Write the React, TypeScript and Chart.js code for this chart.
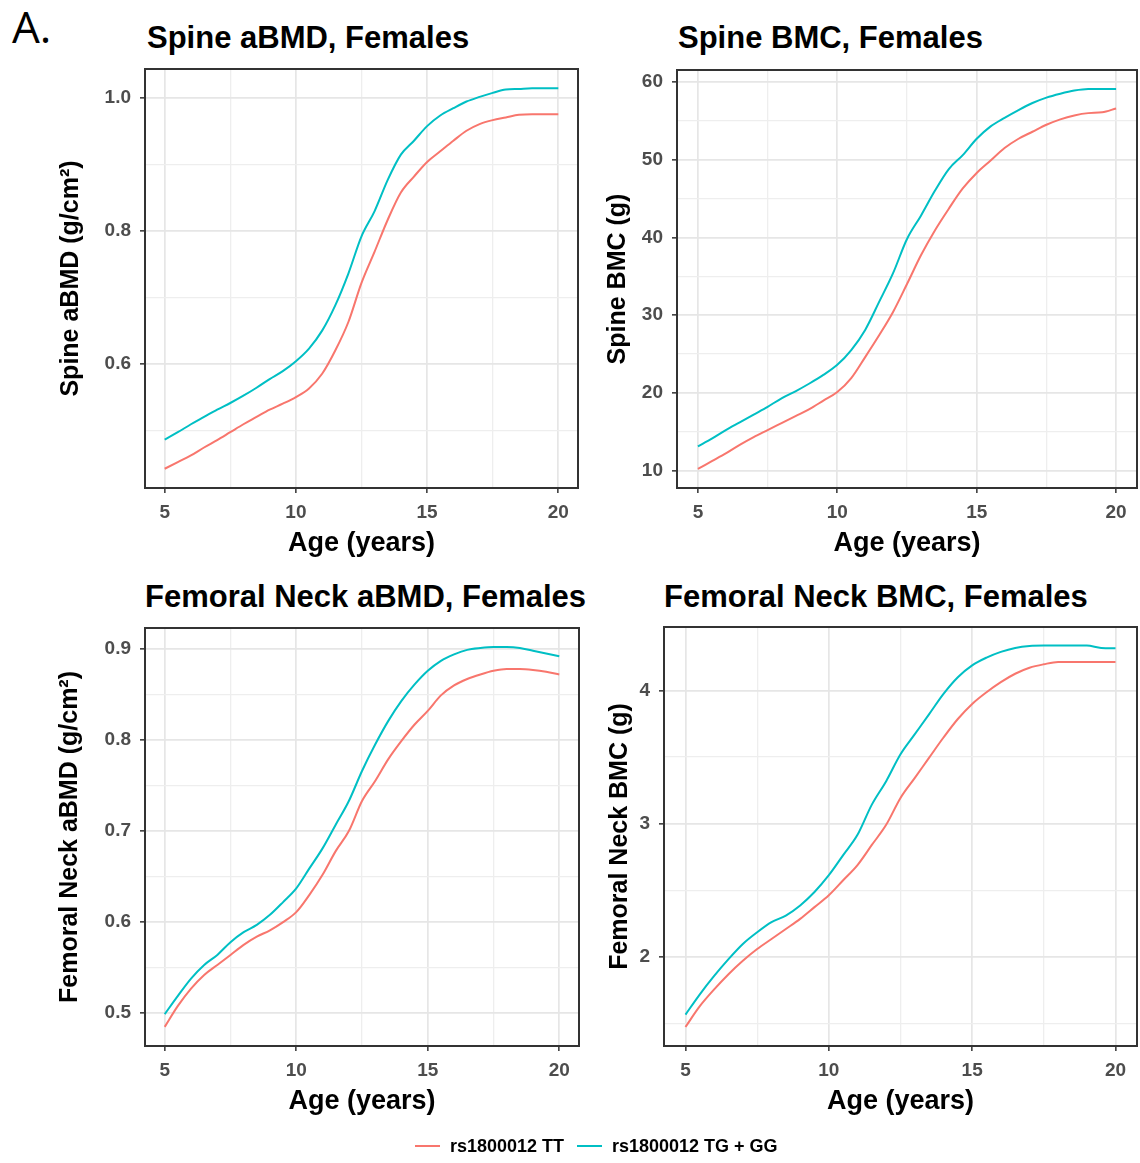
import React, { useEffect, useRef } from 'react';
import { Chart, registerables } from 'chart.js';

Chart.register(...registerables);

// ---------------- data ----------------
const AGES = [5, 5.5, 6, 6.5, 7, 7.5, 8, 8.5, 9, 9.5, 10, 10.5, 11, 11.5, 12, 12.5, 13, 13.5, 14, 14.5, 15, 15.5, 16, 16.5, 17, 17.5, 18, 18.5, 19, 19.5, 20];

const SPINE_ABMD_TT = [0.442, 0.452, 0.462, 0.474, 0.485, 0.497, 0.509, 0.52, 0.531, 0.54, 0.55, 0.563, 0.585, 0.62, 0.663, 0.722, 0.769, 0.817, 0.858, 0.882, 0.904, 0.92, 0.936, 0.951, 0.961, 0.967, 0.971, 0.975, 0.976, 0.976, 0.976];
const SPINE_ABMD_TG = [0.486, 0.497, 0.509, 0.52, 0.531, 0.541, 0.552, 0.564, 0.577, 0.589, 0.604, 0.623, 0.65, 0.688, 0.736, 0.792, 0.83, 0.877, 0.915, 0.936, 0.958, 0.974, 0.985, 0.995, 1.002, 1.008, 1.013, 1.014, 1.015, 1.015, 1.015];

const SPINE_BMC_TT = [10.2, 11.2, 12.2, 13.3, 14.3, 15.2, 16.1, 17.0, 17.9, 19.0, 20.1, 21.9, 24.6, 27.4, 30.4, 34.0, 37.7, 40.9, 43.7, 46.3, 48.3, 49.9, 51.5, 52.7, 53.6, 54.5, 55.2, 55.7, 56.0, 56.1, 56.6];
const SPINE_BMC_TG = [13.1, 14.1, 15.2, 16.2, 17.2, 18.2, 19.3, 20.2, 21.2, 22.3, 23.6, 25.5, 28.1, 31.7, 35.4, 39.8, 42.8, 46.0, 48.8, 50.6, 52.7, 54.3, 55.4, 56.4, 57.3, 58.0, 58.5, 58.9, 59.1, 59.1, 59.1];

const FN_ABMD_TT = [0.485, 0.508, 0.527, 0.542, 0.553, 0.564, 0.575, 0.584, 0.591, 0.6, 0.611, 0.63, 0.652, 0.678, 0.7, 0.733, 0.755, 0.779, 0.799, 0.817, 0.832, 0.849, 0.86, 0.867, 0.872, 0.876, 0.878, 0.878, 0.877, 0.875, 0.872];
const FN_ABMD_TG = [0.499, 0.519, 0.538, 0.553, 0.564, 0.578, 0.589, 0.597, 0.608, 0.622, 0.637, 0.659, 0.681, 0.707, 0.733, 0.766, 0.795, 0.821, 0.843, 0.861, 0.876, 0.887, 0.894, 0.899, 0.901, 0.902, 0.902, 0.901, 0.898, 0.895, 0.892];

const FN_BMC_TT = [1.473, 1.629, 1.755, 1.869, 1.97, 2.058, 2.134, 2.209, 2.285, 2.373, 2.462, 2.575, 2.689, 2.84, 2.991, 3.193, 3.344, 3.496, 3.647, 3.786, 3.899, 3.987, 4.063, 4.126, 4.171, 4.197, 4.214, 4.214, 4.214, 4.214, 4.214];
const FN_BMC_TG = [1.566, 1.718, 1.856, 1.982, 2.096, 2.184, 2.26, 2.31, 2.386, 2.487, 2.613, 2.764, 2.916, 3.143, 3.319, 3.521, 3.672, 3.823, 3.975, 4.1, 4.189, 4.247, 4.29, 4.32, 4.335, 4.338, 4.338, 4.338, 4.338, 4.32, 4.318];

const SERIES_LABELS = ['rs1800012 TT', 'rs1800012 TG + GG'];
const SERIES_COLORS = ['#F8766D', '#00BFC4'];

const X_MAJOR = [5, 10, 15, 20];
const X_MINOR = [7.5, 12.5, 17.5];

const P1_Y_MAJOR = [0.6, 0.8, 1.0];
const P1_Y_MINOR = [0.5, 0.7, 0.9];
const P2_Y_MAJOR = [10, 20, 30, 40, 50, 60];
const P2_Y_MINOR = [15, 25, 35, 45, 55];
const P3_Y_MAJOR = [0.5, 0.6, 0.7, 0.8, 0.9];
const P3_Y_MINOR = [0.55, 0.65, 0.75, 0.85];
const P4_Y_MAJOR = [2, 3, 4];
const P4_Y_MINOR = [1.5, 2.5, 3.5];

const TITLES = ['Spine aBMD, Females', 'Spine BMC, Females', 'Femoral Neck aBMD, Females', 'Femoral Neck BMC, Females'];
const Y_TITLES = ['Spine aBMD (g/cm²)', 'Spine BMC (g)', 'Femoral Neck aBMD (g/cm²)', 'Femoral Neck BMC (g)'];
const X_TITLE = 'Age (years)';

// ---------------- styling / layout ----------------
const FONT = "'Liberation Sans', Arial, Helvetica, sans-serif";

type PanelSpec = {
  left: number; top: number; w: number; h: number;
  padTop: number; padRight: number; yAxisWidth: number; xAxisHeight: number;
  yTitlePad: number;
  yMin: number; yMax: number; yMajor: number[]; yMinor: number[]; decimals: number;
  tt: number[]; tg: number[]; title: string; yTitle: string;
  titleLeft: number; titleTop: number;
};

const PANELS: PanelSpec[] = [
  { left: 0, top: 60, w: 590, h: 520, padTop: 9, padRight: 12, yAxisWidth: 145, xAxisHeight: 92, yTitlePad: 56,
    yMin: 0.413, yMax: 1.044, yMajor: P1_Y_MAJOR, yMinor: P1_Y_MINOR, decimals: 1,
    tt: SPINE_ABMD_TT, tg: SPINE_ABMD_TG, title: TITLES[0], yTitle: Y_TITLES[0], titleLeft: 147, titleTop: 22 },
  { left: 590, top: 60, w: 550, h: 520, padTop: 10, padRight: 3, yAxisWidth: 87, xAxisHeight: 92, yTitlePad: 13,
    yMin: 7.75, yMax: 61.55, yMajor: P2_Y_MAJOR, yMinor: P2_Y_MINOR, decimals: 0,
    tt: SPINE_BMC_TT, tg: SPINE_BMC_TG, title: TITLES[1], yTitle: Y_TITLES[1], titleLeft: 678, titleTop: 22 },
  { left: 0, top: 618, w: 590, h: 520, padTop: 10, padRight: 11, yAxisWidth: 145, xAxisHeight: 92, yTitlePad: 55,
    yMin: 0.464, yMax: 0.923, yMajor: P3_Y_MAJOR, yMinor: P3_Y_MINOR, decimals: 1,
    tt: FN_ABMD_TT, tg: FN_ABMD_TG, title: TITLES[2], yTitle: Y_TITLES[2], titleLeft: 145, titleTop: 581 },
  { left: 590, top: 618, w: 550, h: 520, padTop: 9, padRight: 3, yAxisWidth: 74, xAxisHeight: 92, yTitlePad: 15,
    yMin: 1.33, yMax: 4.477, yMajor: P4_Y_MAJOR, yMinor: P4_Y_MINOR, decimals: 0,
    tt: FN_BMC_TT, tg: FN_BMC_TG, title: TITLES[3], yTitle: Y_TITLES[3], titleLeft: 664, titleTop: 581 },
];

const isIn = (arr: number[], v: any) => typeof v === 'number' && arr.some((m) => Math.abs(m - v) < 1e-9);

const boxPlugin = {
  id: 'panelBox',
  afterDraw(chart: any) {
    const { ctx, chartArea } = chart;
    ctx.save();
    ctx.strokeStyle = '#333333';
    ctx.lineWidth = 2;
    ctx.strokeRect(chartArea.left, chartArea.top, chartArea.right - chartArea.left, chartArea.bottom - chartArea.top);
    ctx.restore();
  },
};

function Panel({ spec }: { spec: PanelSpec }) {
  const ref = useRef<HTMLCanvasElement>(null);
  useEffect(() => {
    if (!ref.current) return;
    const xTicks = [...X_MAJOR, ...X_MINOR].sort((a, b) => a - b);
    const yTicks = [...spec.yMajor, ...spec.yMinor].sort((a, b) => a - b);
    const mk = (vals: number[]) => AGES.map((a, i) => ({ x: a, y: vals[i] }));
    const chart = new Chart(ref.current, {
      type: 'line',
      data: {
        datasets: [
          { label: SERIES_LABELS[0], data: mk(spec.tt), borderColor: SERIES_COLORS[0], backgroundColor: SERIES_COLORS[0], borderWidth: 2, pointRadius: 0, cubicInterpolationMode: 'monotone', fill: false },
          { label: SERIES_LABELS[1], data: mk(spec.tg), borderColor: SERIES_COLORS[1], backgroundColor: SERIES_COLORS[1], borderWidth: 2, pointRadius: 0, cubicInterpolationMode: 'monotone', fill: false },
        ],
      },
      options: {
        animation: false,
        responsive: false,
        maintainAspectRatio: false,
        events: [],
        layout: { padding: { top: spec.padTop, right: spec.padRight, left: 0, bottom: 0 } },
        plugins: { legend: { display: false }, tooltip: { enabled: false }, title: { display: false } },
        scales: {
          x: {
            type: 'linear',
            min: 4.25,
            max: 20.75,
            afterBuildTicks: (s: any) => { s.ticks = xTicks.map((v) => ({ value: v })); },
            afterFit: (s: any) => { s.height = spec.xAxisHeight; s.paddingLeft = 0; s.paddingRight = 0; },
            ticks: {
              autoSkip: false, maxRotation: 0, minRotation: 0, padding: 8, color: '#4d4d4d',
              font: { family: FONT, size: 19, weight: 'bold' },
              callback: (v: any) => (isIn(X_MAJOR, v) ? String(v) : ''),
            },
            grid: {
              color: (c: any) => (isIn(X_MAJOR, c.tick?.value) ? '#e6e6e6' : '#eeeeee'),
              lineWidth: (c: any) => (isIn(X_MAJOR, c.tick?.value) ? 1.7 : 1.3),
              tickColor: (c: any) => (isIn(X_MAJOR, c.tick?.value) ? '#333333' : 'rgba(0,0,0,0)'),
              tickLength: 5,
              tickWidth: 1.5,
              drawTicks: true,
            },
            border: { display: false },
            title: { display: true, text: X_TITLE, color: '#000', font: { family: FONT, size: 27, weight: 'bold' }, padding: { top: 0, bottom: 20 } },
          },
          y: {
            type: 'linear',
            min: spec.yMin,
            max: spec.yMax,
            afterBuildTicks: (s: any) => { s.ticks = yTicks.map((v) => ({ value: v })); },
            afterFit: (s: any) => { s.width = spec.yAxisWidth; s.paddingTop = 0; s.paddingBottom = 0; },
            ticks: {
              autoSkip: false, padding: 9, color: '#4d4d4d',
              font: { family: FONT, size: 19, weight: 'bold' },
              callback: (v: any) => (isIn(spec.yMajor, v) ? Number(v).toFixed(spec.decimals) : ''),
            },
            grid: {
              color: (c: any) => (isIn(spec.yMajor, c.tick?.value) ? '#e6e6e6' : '#eeeeee'),
              lineWidth: (c: any) => (isIn(spec.yMajor, c.tick?.value) ? 1.7 : 1.3),
              tickColor: (c: any) => (isIn(spec.yMajor, c.tick?.value) ? '#333333' : 'rgba(0,0,0,0)'),
              tickLength: 5,
              tickWidth: 1.5,
              drawTicks: true,
            },
            border: { display: false },
            title: { display: true, text: spec.yTitle, color: '#000', font: { family: FONT, size: 25, weight: 'bold' }, padding: { top: spec.yTitlePad, bottom: 0 } },
          },
        },
      } as any,
      plugins: [boxPlugin],
    });
    return () => chart.destroy();
  }, [spec]);
  return (
    <canvas
      ref={ref}
      width={spec.w}
      height={spec.h}
      style={{ position: 'absolute', left: spec.left, top: spec.top, width: spec.w, height: spec.h }}
    />
  );
}

export default function App() {
  return (
    <div style={{ position: 'absolute', left: 0, top: 0, width: 1140, height: 1163, overflow: 'hidden', background: '#fff', fontFamily: FONT }}>
      <div style={{ position: 'absolute', left: 12, top: 4, fontFamily: "'Open Sans', 'Noto Sans', sans-serif", fontSize: 44, lineHeight: '44px', color: '#000' }}>A.</div>
      {PANELS.map((p, i) => (
        <div key={'t' + i} style={{ position: 'absolute', left: p.titleLeft, top: p.titleTop, fontSize: 31, lineHeight: '31px', fontWeight: 'bold', color: '#000', whiteSpace: 'nowrap' }}>{p.title}</div>
      ))}
      {PANELS.map((p, i) => (
        <Panel key={'p' + i} spec={p} />
      ))}
      <div style={{ position: 'absolute', left: 415, top: 1145, width: 25, height: 2, background: SERIES_COLORS[0] }} />
      <div style={{ position: 'absolute', left: 450, top: 1136, fontSize: 18, lineHeight: '20px', fontWeight: 'bold', color: '#000', whiteSpace: 'nowrap' }}>{SERIES_LABELS[0]}</div>
      <div style={{ position: 'absolute', left: 577, top: 1145, width: 25, height: 2, background: SERIES_COLORS[1] }} />
      <div style={{ position: 'absolute', left: 612, top: 1136, fontSize: 18, lineHeight: '20px', fontWeight: 'bold', color: '#000', whiteSpace: 'nowrap' }}>{SERIES_LABELS[1]}</div>
    </div>
  );
}
